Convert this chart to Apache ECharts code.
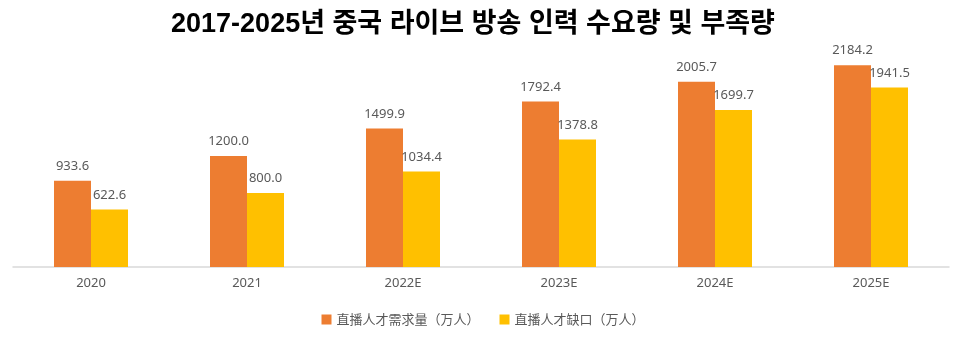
<!DOCTYPE html>
<html><head><meta charset="utf-8">
<script src="https://cdn.jsdelivr.net/npm/echarts@6/dist/echarts.min.js"></script>
<style>html,body{margin:0;padding:0;background:#fff}#c{width:966px;height:349px}</style>
</head><body><div id="c"></div>
<script>
const categories = ['2020','2021','2022E','2023E','2024E','2025E'];
const demand = [933.6, 1200.0, 1499.9, 1792.4, 2005.7, 2184.2];
const shortage = [622.6, 800.0, 1034.4, 1378.8, 1699.7, 1941.5];
const seriesNames = ['直播人才需求量（万人）', '直播人才缺口（万人）'];
const titleText = '2017-2025년 중국 라이브 방송 인력 수요량 및 부족량';

const chart = echarts.init(document.getElementById('c'));
const labelStyle = {show:true, position:'top', distance:8, color:'#595959', fontSize:13,
  fontFamily:'"Noto Sans", "DejaVu Sans", sans-serif', formatter: p => p.value.toFixed(1)};
chart.setOption({
  animation:false,
  title:{text:titleText, left:468, textAlign:'center', top:6,
    textStyle:{fontSize:27, fontWeight:'bold', color:'#000', fontFamily:'"Liberation Sans", "Noto Sans CJK KR", sans-serif'}},
  legend:{bottom:18, left:'center', itemWidth:10, itemHeight:10, itemGap:20, icon:'rect',
    textStyle:{color:'#595959', fontSize:13, fontFamily:'"Noto Sans CJK SC", sans-serif'}},
  grid:{left:13, right:17, top:36, bottom:82},
  xAxis:{type:'category', data:categories,
    axisLine:{lineStyle:{color:'#d9d9d9', width:1.5}}, axisTick:{show:false},
    axisLabel:{color:'#595959', fontSize:13, margin:10, fontFamily:'"Noto Sans", sans-serif'}},
  yAxis:{type:'value', min:0, max:2500, show:false, splitLine:{show:false}},
  series:[
    {name:seriesNames[0], type:'bar', data:demand, barWidth:37, barGap:'0%', itemStyle:{color:'#ED7D31'}, label:labelStyle},
    {name:seriesNames[1], type:'bar', data:shortage, barWidth:37, itemStyle:{color:'#FFC000'}, label:labelStyle}
  ]
});
</script></body></html>
